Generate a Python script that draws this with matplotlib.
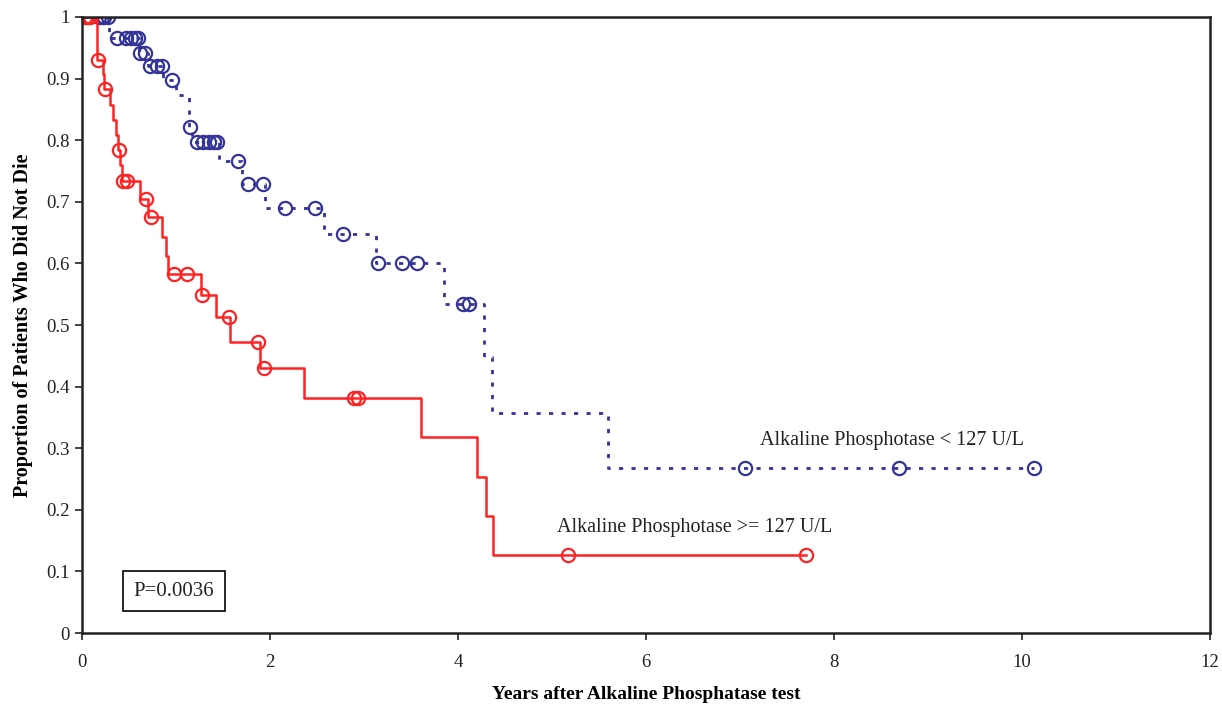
import numpy as np
import matplotlib.pyplot as plt

plt.rcParams['font.family'] = ['Liberation Serif', 'DejaVu Serif']

########## low ALP group (< 127 U/L) ##########
low_t = [0, 0.29, 0.61, 0.70, 0.86, 1.00, 1.14, 1.17, 1.46, 1.70, 1.95, 2.58, 3.13, 3.85, 4.28, 4.36, 5.60, 10.13]
low_s = [1.0, 0.966, 0.942, 0.921, 0.897, 0.873, 0.821, 0.797, 0.766, 0.729, 0.690, 0.648, 0.601, 0.534, 0.448, 0.357, 0.268, 0.268]
low_cens_t = [0.18, 0.21, 0.24, 0.28, 0.37, 0.47, 0.52, 0.56, 0.60, 0.62, 0.67, 0.72, 0.80, 0.85,
              0.96, 1.15, 1.22, 1.29, 1.35, 1.41, 1.44, 1.66, 1.77, 1.93, 2.16, 2.48, 2.78,
              3.15, 3.41, 3.57, 4.05, 4.12, 7.06, 8.69, 10.13]

########## high ALP group (>= 127 U/L) ##########
high_t = [0, 0.16, 0.22, 0.24, 0.30, 0.33, 0.36, 0.38, 0.41, 0.43, 0.62, 0.70, 0.85, 0.90, 0.92,
          1.27, 1.43, 1.58, 1.90, 2.36, 3.61, 4.20, 4.30, 4.37, 7.70]
high_s = [1.0, 0.930, 0.907, 0.883, 0.857, 0.833, 0.808, 0.784, 0.760, 0.733, 0.705, 0.676, 0.643, 0.612, 0.583,
          0.549, 0.513, 0.473, 0.430, 0.381, 0.318, 0.254, 0.190, 0.127, 0.127]
high_cens_t = [0.03, 0.06, 0.09, 0.17, 0.25, 0.39, 0.44, 0.48, 0.68, 0.74, 0.98, 1.12, 1.28,
               1.56, 1.87, 1.94, 2.89, 2.94, 5.17, 7.70]


def surv_at(times, surv, t):
    i = np.searchsorted(times, t, side='right') - 1
    return np.array(surv)[i]


blue = '#333399'
red = '#ff2222'

fig = plt.figure(figsize=(12.22, 7.05), dpi=100)
ax = fig.add_axes([0.067, 0.102, 0.923, 0.874])

ax.step(low_t, low_s, where='post', color=blue, lw=2, ls=(0, (1.5, 3)))
ax.plot(low_cens_t, surv_at(low_t, low_s, low_cens_t), 'o', mfc='none', mec=blue, ms=9.5, mew=1.6)

ax.step(high_t, high_s, where='post', color=red, lw=1.8)
ax.plot(high_cens_t, surv_at(high_t, high_s, high_cens_t), 'o', mfc='none', mec=red, ms=9.5, mew=1.6)

ax.text(7.22, 0.312, 'Alkaline Phosphotase < 127 U/L', fontsize=14.5, va='center', ha='left', color='#222222')
ax.text(5.05, 0.172, 'Alkaline Phosphotase >= 127 U/L', fontsize=14.5, va='center', ha='left', color='#222222')
ax.text(0.55, 0.068, 'P=0.0036', fontsize=15, va='center', ha='left', color='#222222',
        bbox=dict(boxstyle='square,pad=0.5', fc='white', ec='black', lw=1.2))

ax.set_xlim(0, 12)
ax.set_ylim(0, 1)
ax.set_xticks(np.arange(0, 13, 2))
ax.set_yticks(np.arange(0, 1.01, 0.1))
ax.set_yticklabels(['0', '0.1', '0.2', '0.3', '0.4', '0.5', '0.6', '0.7', '0.8', '0.9', '1'])
ax.tick_params(direction='out', length=5, width=1.2, labelsize=13.5, colors='#222222')
ax.tick_params(axis='x', pad=10)
for sp in ax.spines.values():
    sp.set_linewidth(1.8)
    sp.set_color('#222222')

ax.set_xlabel('Years after Alkaline Phosphatase test', fontsize=14, fontweight='bold', labelpad=11)
ax.set_ylabel('Proportion of Patients Who Did Not Die', fontsize=14.5, fontweight='bold', labelpad=10)

fig.savefig('out.png', dpi=100)
